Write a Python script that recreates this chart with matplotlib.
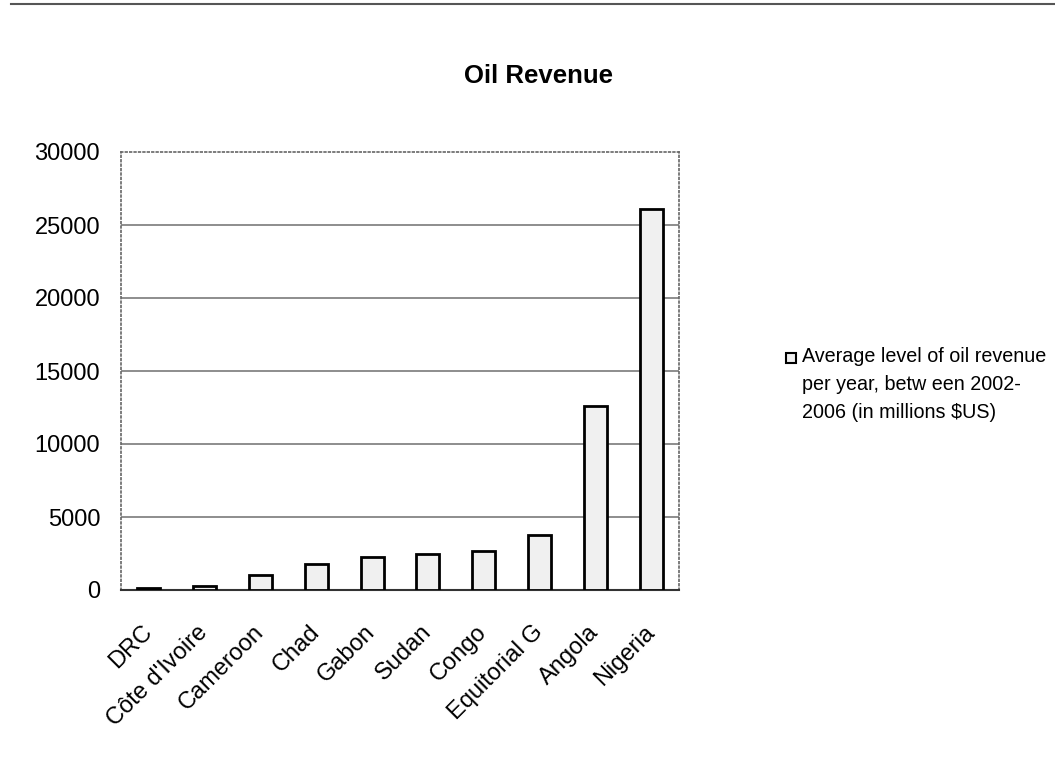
import matplotlib.pyplot as plt
from matplotlib.patches import Rectangle
from matplotlib.lines import Line2D

plt.rcParams['font.family'] = ['Liberation Sans', 'DejaVu Sans']

countries = ['DRC', "Côte d'Ivoire", 'Cameroon', 'Chad', 'Gabon', 'Sudan',
             'Congo', 'Equitorial G', 'Angola', 'Nigeria']
revenue = [150, 300, 1000, 1750, 2250, 2500, 2650, 3750, 12600, 26100]
yticks = [0, 5000, 10000, 15000, 20000, 25000, 30000]
legend_label = 'Average level of oil revenue\nper year, betw een 2002-\n2006 (in millions $US)'

fig = plt.figure(figsize=(10.55, 7.84), dpi=100)
ax = fig.add_axes([121/1055, 1 - 590/784, 558/1055, 438/784])

x = list(range(len(countries)))
ax.bar(x, revenue, width=0.41, color='#f0f0f0', edgecolor='black',
       linewidth=2, zorder=3)

ax.set_xlim(-0.5, len(countries) - 0.5)
ax.set_ylim(0, 30000)
ax.set_yticks(yticks)
ax.set_yticklabels([str(t) for t in yticks], fontsize=17)
ax.set_xticks(x)
ax.set_xticklabels(countries, fontsize=17, rotation=45, ha='right',
                   va='center', rotation_mode='anchor')
ax.tick_params(axis='y', length=0, pad=15)
ax.tick_params(axis='x', length=0, pad=28)

for t in yticks[1:-1]:
    ax.axhline(t, color='#7a7a7a', linewidth=1.2, zorder=1)

for side in ['top', 'right', 'left']:
    ax.spines[side].set_linestyle(':')
    ax.spines[side].set_color('#666666')
    ax.spines[side].set_linewidth(1.2)
ax.spines['bottom'].set_color('#333333')
ax.spines['bottom'].set_linewidth(1.5)

fig.text(538/1055, 1 - 76/784, 'Oil Revenue', ha='center', va='center',
         fontsize=18.5, fontweight='bold')

# legend entry
fig.patches.append(Rectangle((786/1055, 1 - 363/784), 10/1055, 10/784,
                             transform=fig.transFigure, facecolor='#f0f0f0',
                             edgecolor='black', linewidth=1.5))
fig.text(802/1055, 1 - 347/784, legend_label, ha='left', va='top',
         fontsize=14.2, linespacing=1.6)

fig.lines.append(Line2D([0.01, 1.0], [1 - 4/784, 1 - 4/784],
                        transform=fig.transFigure, color='#555555',
                        linewidth=1.5))

fig.savefig('out.png', dpi=100)
